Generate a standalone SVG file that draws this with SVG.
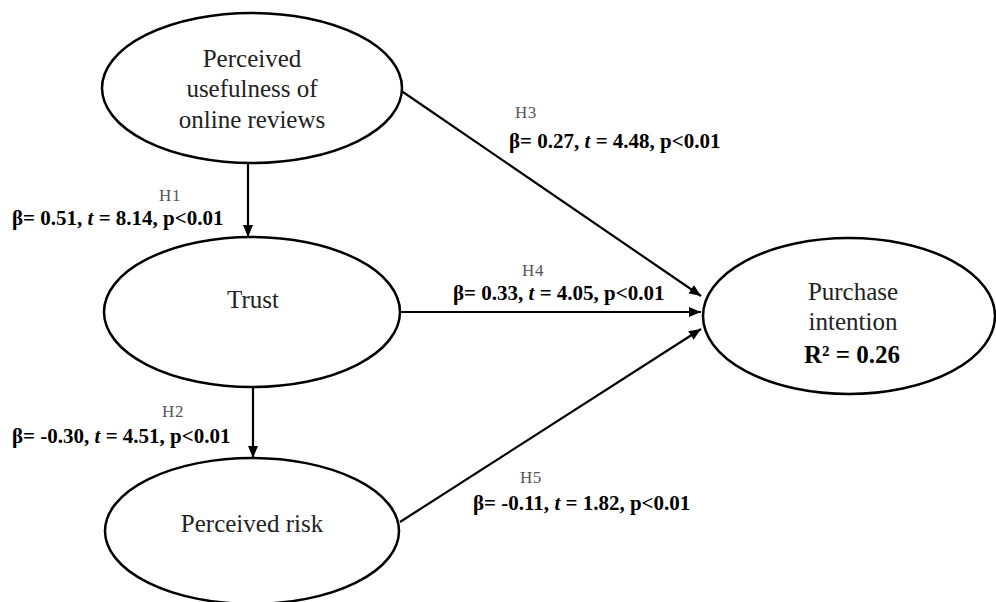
<svg xmlns="http://www.w3.org/2000/svg" width="996" height="602" viewBox="0 0 996 602">
<style>
.node{fill:#fff;stroke:#000;stroke-width:2.5}
.lbl{font-family:"Liberation Serif","Times New Roman",serif;font-size:25px;fill:#222;text-anchor:middle}
.h{font-family:"Liberation Serif","Times New Roman",serif;font-size:17px;fill:#555;letter-spacing:0.5px}
.b{font-family:"Liberation Serif","Times New Roman",serif;font-size:21px;font-weight:bold;fill:#000}
.edge{stroke:#000;stroke-width:2.2;fill:none;marker-end:url(#arr)}
</style>
<defs>
<marker id="arr" viewBox="0 0 12 10" refX="12" refY="5" markerWidth="12" markerHeight="10" markerUnits="userSpaceOnUse" orient="auto">
<path d="M0,0 L12,5 L0,10 z" fill="#000"/>
</marker>
</defs>
<rect width="996" height="602" fill="#fff"/>
<g id="connectors">
<line class="edge" x1="248" y1="163" x2="248" y2="237"/>
<line class="edge" x1="253" y1="388" x2="253" y2="458"/>
<line class="edge" x1="400" y1="90" x2="701" y2="296"/>
<line class="edge" x1="400" y1="312" x2="701" y2="312"/>
<line class="edge" x1="400" y1="522" x2="701" y2="329"/>
</g>
<g id="usefulness">
<ellipse class="node" cx="252" cy="88" rx="150" ry="75"/>
<text class="lbl" x="252" y="67">Perceived</text>
<text class="lbl" x="252" y="97">usefulness of</text>
<text class="lbl" x="252" y="128">online reviews</text>
</g>
<g id="trust">
<ellipse class="node" cx="252" cy="312" rx="148" ry="75"/>
<text class="lbl" x="253" y="308">Trust</text>
</g>
<g id="risk">
<ellipse class="node" cx="252" cy="531" rx="147" ry="73"/>
<text class="lbl" x="252" y="532">Perceived risk</text>
</g>
<g id="purchase">
<ellipse class="node" cx="849" cy="316" rx="146" ry="78"/>
<text class="lbl" x="853" y="300">Purchase</text>
<text class="lbl" x="853" y="330">intention</text>
<text class="lbl" x="852" y="363" style="font-weight:bold;fill:#000">R² = 0.26</text>
</g>
<g id="labels">
<text class="h" x="170" y="201" text-anchor="middle">H1</text>
<text class="b" x="12" y="225">β= 0.51, <tspan font-style="italic">t</tspan> = 8.14, p&lt;0.01</text>
<text class="h" x="173" y="417" text-anchor="middle">H2</text>
<text class="b" x="12" y="443">β= -0.30, <tspan font-style="italic">t</tspan> = 4.51, p&lt;0.01</text>
<text class="h" x="515" y="118">H3</text>
<text class="b" x="509" y="148">β= 0.27, <tspan font-style="italic">t</tspan> = 4.48, p&lt;0.01</text>
<text class="h" x="533" y="276" text-anchor="middle">H4</text>
<text class="b" x="453" y="300">β= 0.33, <tspan font-style="italic">t</tspan> = 4.05, p&lt;0.01</text>
<text class="h" x="520" y="483">H5</text>
<text class="b" x="473" y="510">β= -0.11, <tspan font-style="italic">t</tspan> = 1.82, p&lt;0.01</text>
</g>
</svg>
